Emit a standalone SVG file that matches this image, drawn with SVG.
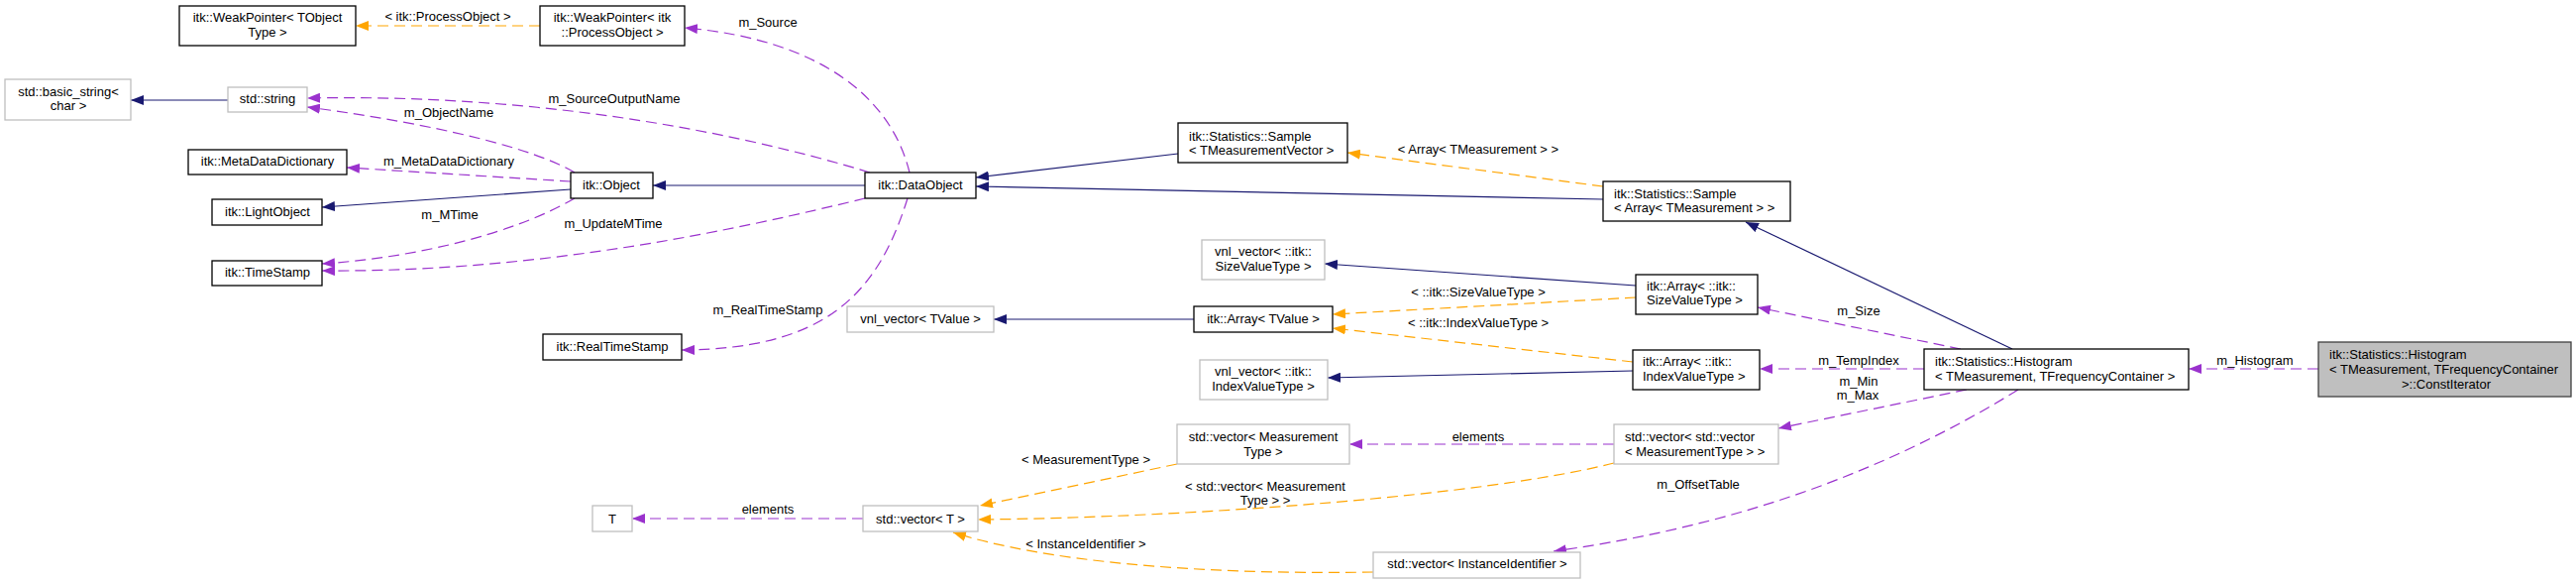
<svg xmlns="http://www.w3.org/2000/svg" width="2600" height="589" viewBox="0 0 2600 589">
<style>
text{font-family:"Liberation Sans",Arial,sans-serif;font-size:13px;fill:#000}
.c{text-anchor:middle}
.n rect{fill:#fff;stroke:#000;stroke-width:1.3}
.g rect{fill:#fff;stroke:#bfbfbf;stroke-width:1.3}
.root rect{fill:#bfbfbf;stroke:#404040;stroke-width:1.3}
.inh{fill:none;stroke:#191970;stroke-width:1.2}
.tpl{fill:none;stroke:#ffa500;stroke-width:1.2;stroke-dasharray:11,6}
.use{fill:none;stroke:#9a32cd;stroke-width:1.2;stroke-dasharray:11,6}
</style>
<defs>
<marker id="aN" markerUnits="userSpaceOnUse" viewBox="0 0 13 10" refX="13" refY="5" markerWidth="13" markerHeight="10" orient="auto"><path d="M0,0L13,5L0,10z" fill="#191970"/></marker>
<marker id="aO" markerUnits="userSpaceOnUse" viewBox="0 0 13 10" refX="13" refY="5" markerWidth="13" markerHeight="10" orient="auto"><path d="M0,0L13,5L0,10z" fill="#ffa500"/></marker>
<marker id="aP" markerUnits="userSpaceOnUse" viewBox="0 0 13 10" refX="13" refY="5" markerWidth="13" markerHeight="10" orient="auto"><path d="M0,0L13,5L0,10z" fill="#9a32cd"/></marker>
</defs>
<rect width="2600" height="589" fill="#fff"/>
<g id="connectors">
<path class="inh" marker-end="url(#aN)" d="M230,101L132,101"/>
<path class="inh" marker-end="url(#aN)" d="M576,191L325,209"/>
<path class="inh" marker-end="url(#aN)" d="M873,187L659,187"/>
<path class="inh" marker-end="url(#aN)" d="M1189,155L985,179"/>
<path class="inh" marker-end="url(#aN)" d="M1618,201L985,188"/>
<path class="inh" marker-end="url(#aN)" d="M2031,352L1762,224"/>
<path class="inh" marker-end="url(#aN)" d="M1205,322L1003,322"/>
<path class="inh" marker-end="url(#aN)" d="M1651,288L1337,266"/>
<path class="inh" marker-end="url(#aN)" d="M1648,374L1340,381"/>
<path class="tpl" marker-end="url(#aO)" d="M545,26L359,26"/>
<text class="c" x="452" y="21">&lt; itk::ProcessObject &gt;</text>
<path class="tpl" marker-end="url(#aO)" d="M1618,188L1360,154"/>
<text class="c" x="1492" y="155">&lt; Array&lt; TMeasurement &gt; &gt;</text>
<path class="tpl" marker-end="url(#aO)" d="M1651,300L1345,317"/>
<text class="c" x="1492" y="299">&lt; ::itk::SizeValueType &gt;</text>
<path class="tpl" marker-end="url(#aO)" d="M1648,365L1345,331"/>
<text class="c" x="1492" y="330">&lt; ::itk::IndexValueType &gt;</text>
<path class="tpl" marker-end="url(#aO)" d="M1188,468L989,510"/>
<text class="c" x="1096" y="468">&lt; MeasurementType &gt;</text>
<path class="tpl" marker-end="url(#aO)" d="M1629,467C1500,500 1200,522 987,524"/>
<text class="c" x="1277" y="494.5">&lt; std::vector&lt; Measurement</text>
<text class="c" x="1277" y="508.5">Type &gt; &gt;</text>
<path class="tpl" marker-end="url(#aO)" d="M1386,577C1200,580 1050,565 962,537"/>
<text class="c" x="1096" y="553">&lt; InstanceIdentifier &gt;</text>
<path class="use" marker-end="url(#aP)" d="M2340,372L2209,372"/>
<text class="c" x="2276" y="368">m_Histogram</text>
<path class="use" marker-end="url(#aP)" d="M1979,352L1774,310"/>
<text class="c" x="1876" y="318">m_Size</text>
<path class="use" marker-end="url(#aP)" d="M1942,372L1776,372"/>
<text class="c" x="1876" y="368">m_TempIndex</text>
<path class="use" marker-end="url(#aP)" d="M1985,393L1795,432"/>
<text class="c" x="1876" y="389">m_Min</text>
<text class="c" x="1875" y="403">m_Max</text>
<path class="use" marker-end="url(#aP)" d="M2037,393C1880,490 1720,535 1568,556"/>
<text class="c" x="1714" y="493">m_OffsetTable</text>
<path class="use" marker-end="url(#aP)" d="M1629,448L1362,448"/>
<text class="c" x="1492" y="445">elements</text>
<path class="use" marker-end="url(#aP)" d="M871,523L638,523"/>
<text class="c" x="775" y="518">elements</text>
<path class="use" marker-end="url(#aP)" d="M916,200C885,300 830,352 688,353"/>
<text class="c" x="775" y="317">m_RealTimeStamp</text>
<path class="use" marker-end="url(#aP)" d="M918,174C900,100 830,40 691,28"/>
<text class="c" x="775" y="27">m_Source</text>
<path class="use" marker-end="url(#aP)" d="M878,174C700,120 500,95 310,99"/>
<text class="c" x="620" y="104">m_SourceOutputName</text>
<path class="use" marker-end="url(#aP)" d="M580,174C540,150 440,125 310,108"/>
<text class="c" x="453" y="118">m_ObjectName</text>
<path class="use" marker-end="url(#aP)" d="M576,183L350,169"/>
<text class="c" x="453" y="167">m_MetaDataDictionary</text>
<path class="use" marker-end="url(#aP)" d="M580,200C520,235 420,260 325,266"/>
<text class="c" x="454" y="221">m_MTime</text>
<path class="use" marker-end="url(#aP)" d="M873,200C750,230 550,275 325,273"/>
<text class="c" x="619" y="230">m_UpdateMTime</text>
</g>
<g id="weakpointer_tobject" class="n"><rect x="181" y="6" width="178" height="40"/><text class="c" x="270" y="22">itk::WeakPointer&lt; TObject</text><text class="c" x="270" y="37">Type &gt;</text></g>
<g id="weakpointer_processobject" class="n"><rect x="545" y="6" width="146" height="40"/><text class="c" x="618" y="22">itk::WeakPointer&lt; itk</text><text class="c" x="618" y="37">::ProcessObject &gt;</text></g>
<g id="basic_string" class="g"><rect x="5" y="80" width="127" height="41"/><text class="c" x="69" y="97">std::basic_string&lt;</text><text class="c" x="69" y="111">char &gt;</text></g>
<g id="std_string" class="g"><rect x="230" y="88" width="80" height="25"/><text class="c" x="270" y="104">std::string</text></g>
<g id="metadatadictionary" class="n"><rect x="190" y="151" width="160" height="25"/><text class="c" x="270" y="167">itk::MetaDataDictionary</text></g>
<g id="lightobject" class="n"><rect x="214" y="201" width="111" height="26"/><text class="c" x="270" y="218">itk::LightObject</text></g>
<g id="timestamp" class="n"><rect x="214" y="263" width="111" height="25"/><text class="c" x="270" y="279">itk::TimeStamp</text></g>
<g id="object" class="n"><rect x="576" y="174" width="83" height="26"/><text class="c" x="617" y="191">itk::Object</text></g>
<g id="dataobject" class="n"><rect x="873" y="174" width="112" height="26"/><text class="c" x="929" y="191">itk::DataObject</text></g>
<g id="realtimestamp" class="n"><rect x="548" y="337" width="140" height="26"/><text class="c" x="618" y="354">itk::RealTimeStamp</text></g>
<g id="t" class="g"><rect x="598" y="510" width="40" height="26"/><text class="c" x="618" y="528">T</text></g>
<g id="vector_t" class="g"><rect x="871" y="510" width="116" height="26"/><text class="c" x="929" y="528">std::vector&lt; T &gt;</text></g>
<g id="vnl_tvalue" class="g"><rect x="855" y="309" width="148" height="26"/><text class="c" x="929" y="326">vnl_vector&lt; TValue &gt;</text></g>
<g id="array_tvalue" class="n"><rect x="1205" y="309" width="140" height="26"/><text class="c" x="1275" y="326">itk::Array&lt; TValue &gt;</text></g>
<g id="vnl_size" class="g"><rect x="1213" y="242" width="124" height="40"/><text class="c" x="1275" y="258">vnl_vector&lt; ::itk::</text><text class="c" x="1275" y="273">SizeValueType &gt;</text></g>
<g id="vnl_index" class="g"><rect x="1211" y="363" width="129" height="40"/><text class="c" x="1275" y="379">vnl_vector&lt; ::itk::</text><text class="c" x="1275" y="394">IndexValueType &gt;</text></g>
<g id="vector_measurementtype" class="g"><rect x="1188" y="428" width="174" height="40"/><text class="c" x="1275" y="445">std::vector&lt; Measurement</text><text class="c" x="1275" y="459.5">Type &gt;</text></g>
<g id="sample_tmv" class="n"><rect x="1189" y="124" width="171" height="40"/><text x="1200" y="142">itk::Statistics::Sample</text><text x="1200" y="156">&lt; TMeasurementVector &gt;</text></g>
<g id="sample_array" class="n"><rect x="1618" y="183" width="189" height="40"/><text x="1629" y="199.5">itk::Statistics::Sample</text><text x="1629" y="214">&lt; Array&lt; TMeasurement &gt; &gt;</text></g>
<g id="array_size" class="n"><rect x="1651" y="277" width="123" height="40"/><text x="1662" y="293">itk::Array&lt; ::itk::</text><text x="1662" y="307">SizeValueType &gt;</text></g>
<g id="array_index" class="n"><rect x="1648" y="353" width="128" height="40"/><text x="1658" y="369">itk::Array&lt; ::itk::</text><text x="1658" y="384">IndexValueType &gt;</text></g>
<g id="histogram" class="n"><rect x="1942" y="352" width="267" height="41"/><text x="1953" y="369">itk::Statistics::Histogram</text><text x="1953" y="383.5">&lt; TMeasurement, TFrequencyContainer &gt;</text></g>
<g id="vector_vector" class="g"><rect x="1629" y="428" width="166" height="40"/><text x="1640" y="445">std::vector&lt; std::vector</text><text x="1640" y="459.5">&lt; MeasurementType &gt; &gt;</text></g>
<g id="vector_instanceidentifier" class="g"><rect x="1386" y="557" width="209" height="26"/><text class="c" x="1491" y="573">std::vector&lt; InstanceIdentifier &gt;</text></g>
<g id="constiterator" class="root"><rect x="2340" y="345" width="255" height="55"/><text x="2351" y="362">itk::Statistics::Histogram</text><text x="2351" y="377">&lt; TMeasurement, TFrequencyContainer</text><text class="c" x="2469" y="392">&gt;::ConstIterator</text></g>
</svg>
